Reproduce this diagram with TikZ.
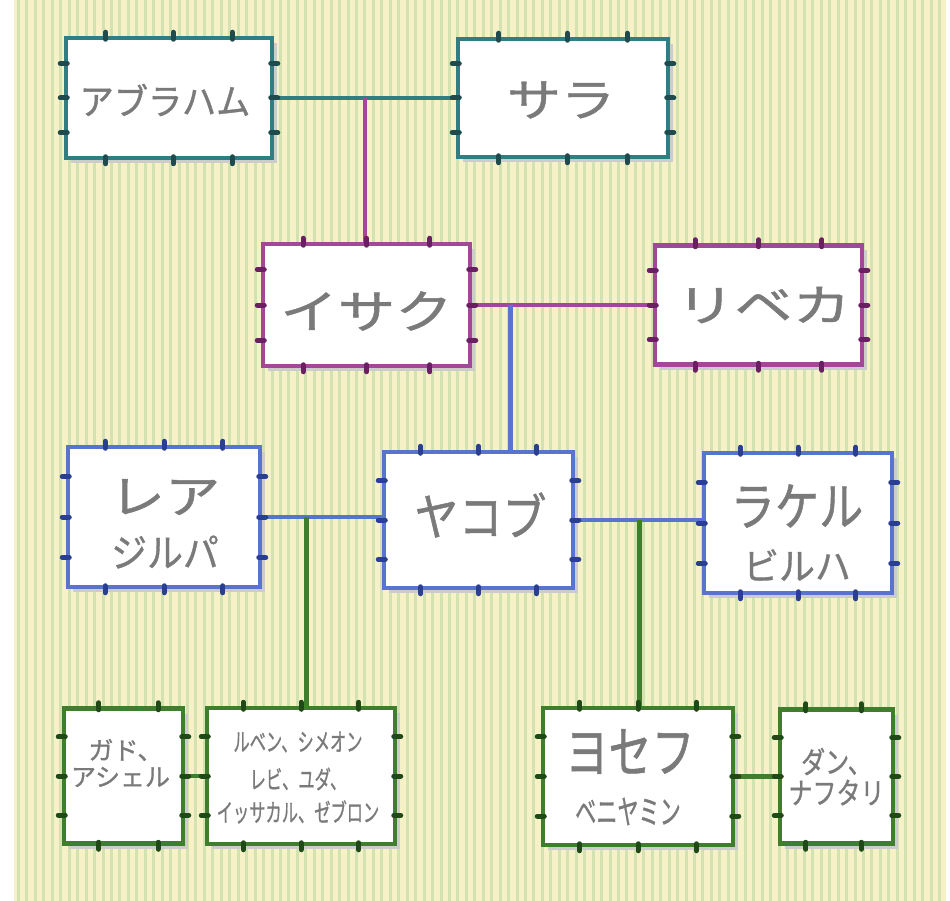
\documentclass[tikz,border=0pt]{standalone}
\usepackage{fontspec}
\usepackage{graphicx}
\usetikzlibrary{calc,shadows}
\newfontfamily\jp[FakeBold=1]{Noto Sans CJK JP}
\definecolor{bgyellow}{HTML}{F7F1C8}
\definecolor{bgstripe}{HTML}{D2E2B0}
\definecolor{namegray}{HTML}{7A7A7A}
\definecolor{tealline}{HTML}{2F7F82}
\definecolor{tealtick}{HTML}{1F4A4E}
\definecolor{purpline}{HTML}{A3479A}
\definecolor{purptick}{HTML}{6B1F63}
\definecolor{blueline}{HTML}{5874CF}
\definecolor{bluetick}{HTML}{2B3F92}
\definecolor{greenline}{HTML}{3E7E2C}
\definecolor{greentick}{HTML}{1F4A18}
\tikzstyle{famnode} = [draw, fill=white, line width=4.5pt, inner sep=0pt, drop shadow={shadow xshift=5pt, shadow yshift=-5pt, fill=black!20, opacity=1}]
\tikzstyle{tealbox} = [famnode, draw=tealline]
\tikzstyle{purpbox} = [famnode, draw=purpline]
\tikzstyle{bluebox} = [famnode, draw=blueline]
\tikzstyle{greenbox} = [famnode, draw=greenline]
\tikzstyle{namelabel} = [text=namegray, inner sep=0pt, font=\jp]
\tikzstyle{Link} = [line width=4.5pt]
\tikzset{tickmark/.style={line width=5pt, line cap=round, draw=#1}}
% label text: horizontal scale, size, text
\newcommand{\lbl}[3]{\scalebox{#1}[1]{\fontsize{#2}{#2}\selectfont #3}}
% small marks on the border of a box: node, fractions on top/bottom, colour
\newcommand{\boxticks}[3]{%
  \foreach \f in {#2}{
    \draw[tickmark=#3] ($(#1.north west)!\f!(#1.north east)$) ++(0,-3.5) -- ++(0,7);
    \draw[tickmark=#3] ($(#1.south west)!\f!(#1.south east)$) ++(0,-3.5) -- ++(0,7);
  }
  \foreach \f in {0.22,0.5,0.78}{
    \draw[tickmark=#3] ($(#1.north west)!\f!(#1.south west)$) ++(-3.5,0) -- ++(7,0);
    \draw[tickmark=#3] ($(#1.north east)!\f!(#1.south east)$) ++(-3.5,0) -- ++(7,0);
  }}
\begin{document}
\begin{tikzpicture}[x=1pt,y=-1pt]
            \useasboundingbox (0,0) rectangle (950,901);
            %%%%% Background %%%%%
            \fill[bgyellow] (14,0) rectangle (946,901);
            \foreach \i in {0,...,109}
                \fill[bgstripe] ({17+8.45*\i},0) rectangle ++(3,901);
            %%%%% First generation %%%%%
            \node (abraham) [tealbox, minimum width=206, minimum height=120] at (169,98) {};
            \node (sara) [tealbox, minimum width=210, minimum height=118] at (563,98) {};
            \draw [Link, tealline] (abraham.east) -- (sara.west);
            \coordinate (as) at ($(abraham.east)!0.5!(sara.west)$);
            \boxticks{abraham}{0.2,0.52,0.8}{tealtick}
            \boxticks{sara}{0.2,0.52,0.8}{tealtick}
            \node (abrahamT) [namelabel] at ($(abraham)+(-4,2)$) {\lbl{0.95}{36}{アブラハム}};
            \node (saraT) [namelabel] at ($(sara)+(-2,2)$) {\lbl{1.2}{45}{サラ}};
            %%%%% Second generation %%%%%
            \node (isaac) [purpbox, minimum width=207, minimum height=122] at (366.5,305) {};
            \node (rebecca) [purpbox, minimum width=207, minimum height=119] at (758.5,305) {};
            \draw [Link, purpline] (as) -- (as |- isaac.north);
            \draw [Link, purpline] (isaac.east) -- (rebecca.west);
            \coordinate (ir) at ($(isaac.east)+(38,0)$);
            \boxticks{isaac}{0.2,0.5,0.8}{purptick}
            \boxticks{rebecca}{0.2,0.5,0.8}{purptick}
            \node (isaacT) [namelabel] at ($(isaac)+(0,6)$) {\lbl{1.25}{46}{イサク}};
            \node (rebeccaT) [namelabel] at ($(rebecca)+(5,0)$) {\lbl{1.32}{44}{リベカ}};
            %%%%% Third generation %%%%%
            \node (leah) [bluebox, minimum width=192, minimum height=140] at (164,517) {};
            \node (jacob) [bluebox, minimum width=189, minimum height=136] at (478.5,520) {};
            \node (rachel) [bluebox, minimum width=188, minimum height=140] at (798,523) {};
            \draw [Link, blueline] (ir) -- (ir |- jacob.north);
            \draw [Link, blueline] (leah.east) -- (leah.east -| jacob.west);
            \draw [Link, blueline] (jacob.east) -- (jacob.east -| rachel.west);
            \coordinate (lj) at ($(leah.east)+(44,0)$);
            \coordinate (jr) at ($(jacob.east)+(64,0)$);
            \boxticks{leah}{0.2,0.5,0.8}{bluetick}
            \boxticks{jacob}{0.2,0.5,0.8}{bluetick}
            \boxticks{rachel}{0.2,0.5,0.8}{bluetick}
            \node (leahA) [namelabel] at ($(leah)+(1,-20)$) {\lbl{1.2}{46}{レア}};
            \node (leahB) [namelabel] at ($(leah)+(1,35)$) {\lbl{0.92}{39}{ジルパ}};
            \node (jacobT) [namelabel] at ($(jacob)+(2,-5)$) {\lbl{0.88}{50}{ヤコブ}};
            \node (rachelA) [namelabel] at ($(rachel)+(-1,-17)$) {\lbl{0.85}{52}{ラケル}};
            \node (rachelB) [namelabel] at ($(rachel)+(-1,42)$) {\lbl{0.97}{37}{ビルハ}};
            %%%%% Sons %%%%%
            \node (gad) [greenbox, minimum width=119, minimum height=135] at (123.5,776) {};
            \node (reuben) [greenbox, minimum width=188, minimum height=136] at (301,776) {};
            \node (joseph) [greenbox, minimum width=190, minimum height=137] at (638,776.5) {};
            \node (dan) [greenbox, minimum width=113, minimum height=134] at (836.5,776.5) {};
            \draw [Link, greenline] (lj) -- (lj |- reuben.north);
            \draw [Link, greenline] (jr) -- (jr |- joseph.north);
            \draw [Link, greenline] (gad.east) -- (reuben.west);
            \draw [Link, greenline] (joseph.east) -- (dan.west);
            \boxticks{gad}{0.3,0.78}{greentick}
            \boxticks{reuben}{0.2,0.5,0.8}{greentick}
            \boxticks{joseph}{0.2,0.5,0.8}{greentick}
            \boxticks{dan}{0.24,0.71}{greentick}
            \node (gadA) [namelabel] at ($(gad)+(2,-26)$) {\lbl{1.0}{25}{ガド、}};
            \node (gadB) [namelabel] at ($(gad)+(-3,1)$) {\lbl{1.0}{25}{アシェル}};
            \node (reubenA) [namelabel] at ($(reuben)+(-3,-34)$) {\lbl{0.65}{25}{ルベン、シメオン}};
            \node (reubenB) [namelabel] at ($(reuben)+(-3,3)$) {\lbl{0.65}{25}{レビ、ユダ、}};
            \node (reubenC) [namelabel] at ($(reuben)+(-3,36)$) {\lbl{0.65}{25}{イッサカル、ゼブロン}};
            \node (josephA) [namelabel] at ($(joseph)+(-8,-25)$) {\lbl{0.77}{56}{ヨセフ}};
            \node (josephB) [namelabel] at ($(joseph)+(-10,35)$) {\lbl{0.64}{33}{ベニヤミン}};
            \node (danA) [namelabel] at ($(dan)+(0,-15)$) {\lbl{0.8}{30}{ダン、}};
            \node (danB) [namelabel] at ($(dan)+(0,16)$) {\lbl{0.8}{30}{ナフタリ}};
\end{tikzpicture}
\end{document}
